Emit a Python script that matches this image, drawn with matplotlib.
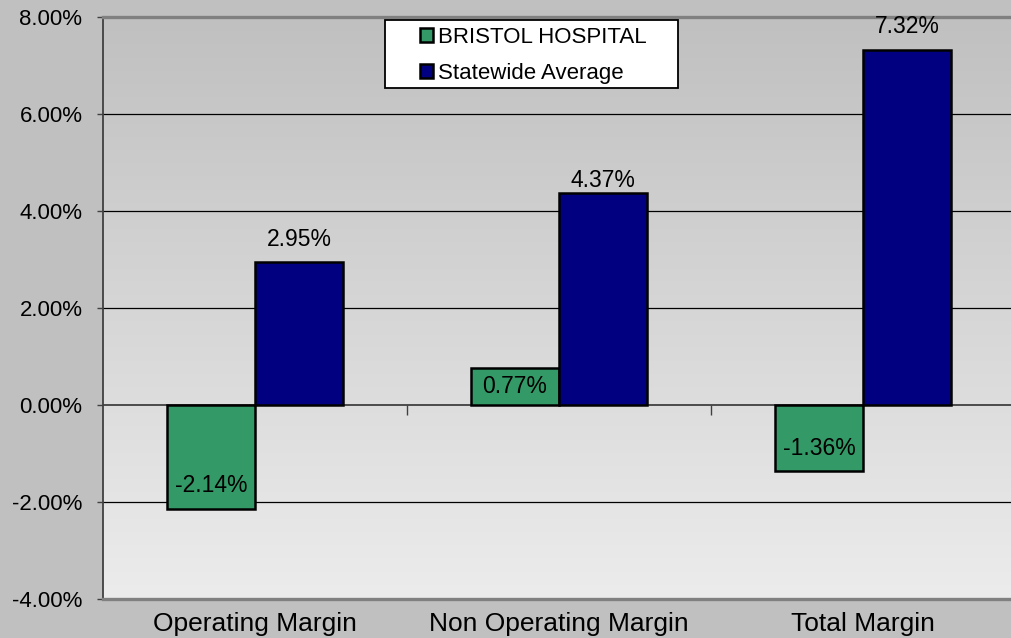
"""Margin comparison: Bristol Hospital vs statewide average."""

import matplotlib
matplotlib.use("Agg")
import matplotlib.pyplot as plt
import numpy as np
from matplotlib.colors import LinearSegmentedColormap
from matplotlib.patches import Rectangle

plt.rcParams["font.family"] = ["Liberation Sans", "DejaVu Sans"]
plt.rcParams["axes.unicode_minus"] = False

categories = ["Operating Margin", "Non Operating Margin", "Total Margin"]
series_names = ["BRISTOL HOSPITAL", "Statewide Average"]
hospital = [-2.14, 0.77, -1.36]
statewide = [2.95, 4.37, 7.32]
y_ticks = [-4, -2, 0, 2, 4, 6, 8]

GREEN = "#339966"
NAVY = "#000080"

W, H = 1012, 638
fig = plt.figure(figsize=(W / 100, H / 100), dpi=100, facecolor="#c0c0c0")
ax = fig.add_axes([103 / W, 1 - 599 / H, 912 / W, 582 / H])
ax.set_xlim(-0.5, 2.5)
ax.set_ylim(y_ticks[0], y_ticks[-1])

# fondo degradado del área de trazado
cmap = LinearSegmentedColormap.from_list("bg", ["#c0c0c0", "#ececec"])
ax.imshow(np.linspace(0, 1, 256).reshape(-1, 1), cmap=cmap, aspect="auto",
          extent=(-0.5, 2.5, y_ticks[0], y_ticks[-1]), origin="upper", zorder=0)

for y in y_ticks[1:-1]:
    ax.axhline(y, color="black" if y != 0 else "#404040", lw=0.9 if y != 0 else 1.3, zorder=1)

x = np.arange(len(categories))
w = 0.29
b1 = ax.bar(x - w / 2, hospital, w, color=GREEN, edgecolor="black", lw=1.8, zorder=3)
b2 = ax.bar(x + w / 2, statewide, w, color=NAVY, edgecolor="black", lw=1.8, zorder=3)

# marcas del eje de categorías sobre la línea del cero
ax.plot([0.5, 1.5], [0, 0], ls="none", marker=3, ms=7, mew=1, color="#404040", zorder=2)

# etiquetas de datos (desplazamiento de la línea base en px)
px = 0.72
hosp_off = [17, -25, 16]
state_off = [16, 6, 17]
for rect, v, off in zip(b1, hospital, hosp_off):
    ax.annotate(f"{v:.2f}%", (rect.get_x() + rect.get_width() / 2, v),
                xytext=(0, off * px), textcoords="offset points",
                ha="center", va="baseline", fontsize=16.5, zorder=6)
for rect, v, off in zip(b2, statewide, state_off):
    ax.annotate(f"{v:.2f}%", (rect.get_x() + rect.get_width() / 2, v),
                xytext=(0, off * px), textcoords="offset points",
                ha="center", va="baseline", fontsize=16.5, zorder=6)

ax.set_yticks(y_ticks)
ax.set_yticklabels([f"{v:.2f}%" for v in y_ticks])
ax.tick_params(axis="y", length=4.3, width=1, color="#404040", pad=10.5, labelsize=16)
ax.set_xticks(x)
ax.set_xticklabels(categories)
ax.tick_params(axis="x", length=0, pad=9.5, labelsize=19)

ax.spines["right"].set_visible(False)
for s in ("top", "bottom"):
    ax.spines[s].set_color("#808080")
    ax.spines[s].set_linewidth(2.4)
    ax.spines[s].set_zorder(5)
ax.spines["left"].set_color("#404040")
ax.spines["left"].set_linewidth(1.3)

# leyenda
fig.add_artist(Rectangle((385 / W, 1 - 88 / H), 293 / W, 68 / H, transform=fig.transFigure,
                         facecolor="white", edgecolor="black", lw=1.3, zorder=6))
leg = fig.legend([b1, b2], series_names, loc="upper left",
                 bbox_to_anchor=(420 / W, 1 - 27 / H), frameon=False, fontsize=16,
                 handlelength=0.6, handleheight=0.6, handletextpad=0.2,
                 labelspacing=0.68, borderpad=0, borderaxespad=0)
leg.set_zorder(7)

fig.savefig("out.png", dpi=100, facecolor=fig.get_facecolor())
